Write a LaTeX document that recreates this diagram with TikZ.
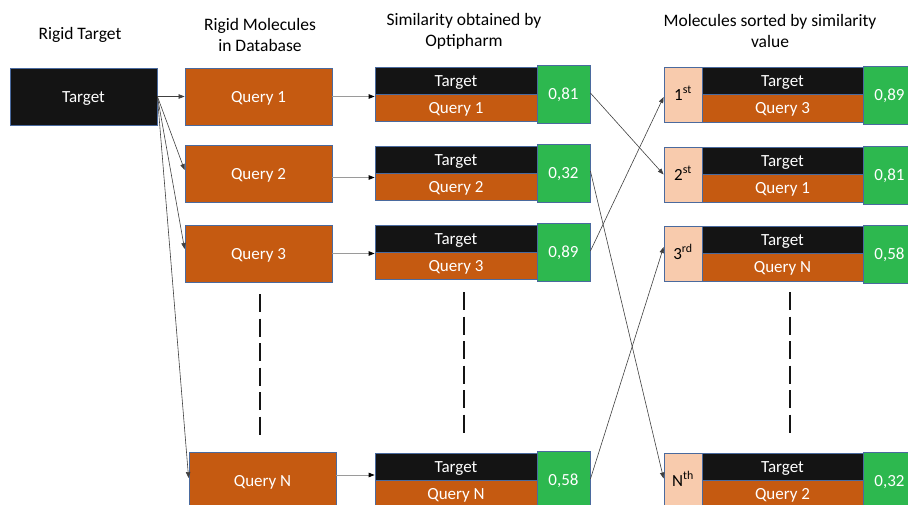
\documentclass[tikz,border=0pt]{standalone}
\usepackage{fontspec}
\setmainfont{Carlito}
\usetikzlibrary{arrows.meta,calc}

\definecolor{boxblack}{HTML}{141414}
\definecolor{boxorange}{HTML}{C55A11}
\definecolor{boxgreen}{HTML}{2DB84F}
\definecolor{boxpeach}{HTML}{F8CBAD}
\definecolor{boxedge}{HTML}{4A6A9E}
\definecolor{linkgray}{HTML}{404040}
\definecolor{lightlink}{HTML}{9A9A9A}

\tikzset{
  base/.style={draw=boxedge, line width=0.8pt, inner sep=0pt, text height=11.5pt, text depth=0pt,
    font=\fontsize{17}{19}\selectfont},
  blackbox/.style={base, fill=boxblack, text=white},
  orangebox/.style={base, fill=boxorange, text=white},
  greenbox/.style={base, fill=boxgreen, text=white},
  peachbox/.style={base, fill=boxpeach, text=black},
  heading/.style={align=center, font=\fontsize{17.5}{21}\selectfont},
  link/.style={draw=linkgray, line width=0.6pt, -{Triangle[length=6pt,width=4.5pt]}},
  feed/.style={draw=lightlink, line width=0.8pt, -{Triangle[length=6pt,width=4.5pt,fill=black,color=black]}},
  omitted/.style={line width=2.7pt, draw=boxblack, dash pattern=on 18pt off 6.5pt},
}

% pair row: Target over a query, with a similarity score on the right
\newcommand{\pairrow}[5]{% name, left x, top y, query text, score
  \node[blackbox, minimum width=162pt, minimum height=27pt] (#1t) at (#2+81, #3+13.5) {Target};
  \node[orangebox, minimum width=162pt, minimum height=27pt] (#1q) at (#2+81, #3+40.5) {#4};
  \node[greenbox, minimum width=53pt, minimum height=58pt] (#1s) at (#2+188.5, #3+27) {#5};
}
% ranked row: a rank tag before the pair row
\newcommand{\rankrow}[5]{% name, top y, rank, query text, score
  \node[peachbox, minimum width=38pt, minimum height=55pt] (#1r) at (683, #2+27.5) {#3};
  \node[blackbox, minimum width=161pt, minimum height=27pt] (#1t) at (782.5, #2+13.5) {Target};
  \node[orangebox, minimum width=161pt, minimum height=28pt] (#1q) at (782.5, #2+41) {#4};
  \node[greenbox, minimum width=53pt, minimum height=58pt] (#1s) at (889.5, #2+28) {#5};
}

\begin{document}
\begin{tikzpicture}[x=1pt,y=-1pt]
\path[use as bounding box] (0,0) rectangle (908,504);
\clip (0,0) rectangle (908,504);

% column headings
\node[heading] (h1) at (80,35) {Rigid Target};
\node[heading] (h2) at (260,35) {Rigid Molecules\\in Database};
\node[heading] (h3) at (464,31) {Similarity obtained by\\Optipharm};
\node[heading] (h4) at (770,31) {Molecules sorted by similarity\\value};

% target and database queries
\node[blackbox, minimum width=147pt, minimum height=57pt] (T) at (83.5,96.5) {Target};
\node[orangebox, minimum width=147pt, minimum height=57pt] (Q1) at (258.5,96.5) {Query 1};
\node[orangebox, minimum width=147pt, minimum height=57pt] (Q2) at (258.5,173.5) {Query 2};
\node[orangebox, minimum width=147pt, minimum height=57pt] (Q3) at (258.5,253.5) {Query 3};
\node[orangebox, minimum width=147pt, minimum height=57pt] (QN) at (262.5,480.5) {Query N};

% similarity pairs
\pairrow{A}{375}{67}{Query 1}{0,81}
\pairrow{B}{375}{146}{Query 2}{0,32}
\pairrow{C}{375}{225}{Query 3}{0,89}
\pairrow{D}{375}{453}{Query N}{0,58}

% sorted pairs
\rankrow{R1}{67}{1\textsuperscript{st}}{Query 3}{0,89}
\rankrow{R2}{147}{2\textsuperscript{st}}{Query 1}{0,81}
\rankrow{R3}{226}{3\textsuperscript{rd}}{Query N}{0,58}
\rankrow{RN}{453}{N\textsuperscript{th}}{Query 2}{0,32}

% omitted rows
\coordinate (d1a) at (260,294); \coordinate (d1b) at (260,436);
\coordinate (d2a) at (464,292); \coordinate (d2b) at (464,434);
\coordinate (d3a) at (790,292); \coordinate (d3b) at (790,434);
\draw[omitted] (d1a) -- (d1b);
\draw[omitted] (d2a) -- (d2b);
\draw[omitted] (d3a) -- (d3b);

% target against every query
\draw[link] (T.east) -- (Q1.west);
\draw[link] (T.east) -- ($(Q2.west)+(0,-3.5)$);
\draw[link] (T.east) -- ($(Q3.west)+(0,-4.5)$);
\draw[link] (T.east) -- ($(QN.west)+(0,-2.5)$);

% queries into the similarity step
\draw[feed] (Q1.east) -- (Q1.east -| At.west);
\draw[feed] ($(Q2.east)+(0,4)$) -- ($(Q2.east -| Bt.west)+(0,4)$);
\draw[feed] (Q3.east) -- (Q3.east -| Ct.west);
\draw[feed] ($(QN.east)+(0,-5.5)$) -- ($(QN.east -| Dt.west)+(0,-5.5)$);

% sorting by score
\draw[link] ($(As.east)+(0,-1)$) -- ($(R2r.west)+(0,0)$);
\draw[link] ($(Bs.east)+(0,-2)$) -- ($(RNr.west)+(0,-2)$);
\draw[link] ($(Cs.east)+(0,-1)$) -- ($(R1r.west)+(0,2.5)$);
\draw[link] ($(Ds.east)+(0,-1)$) -- ($(R3r.west)+(0,-6.5)$);
\end{tikzpicture}
\end{document}
